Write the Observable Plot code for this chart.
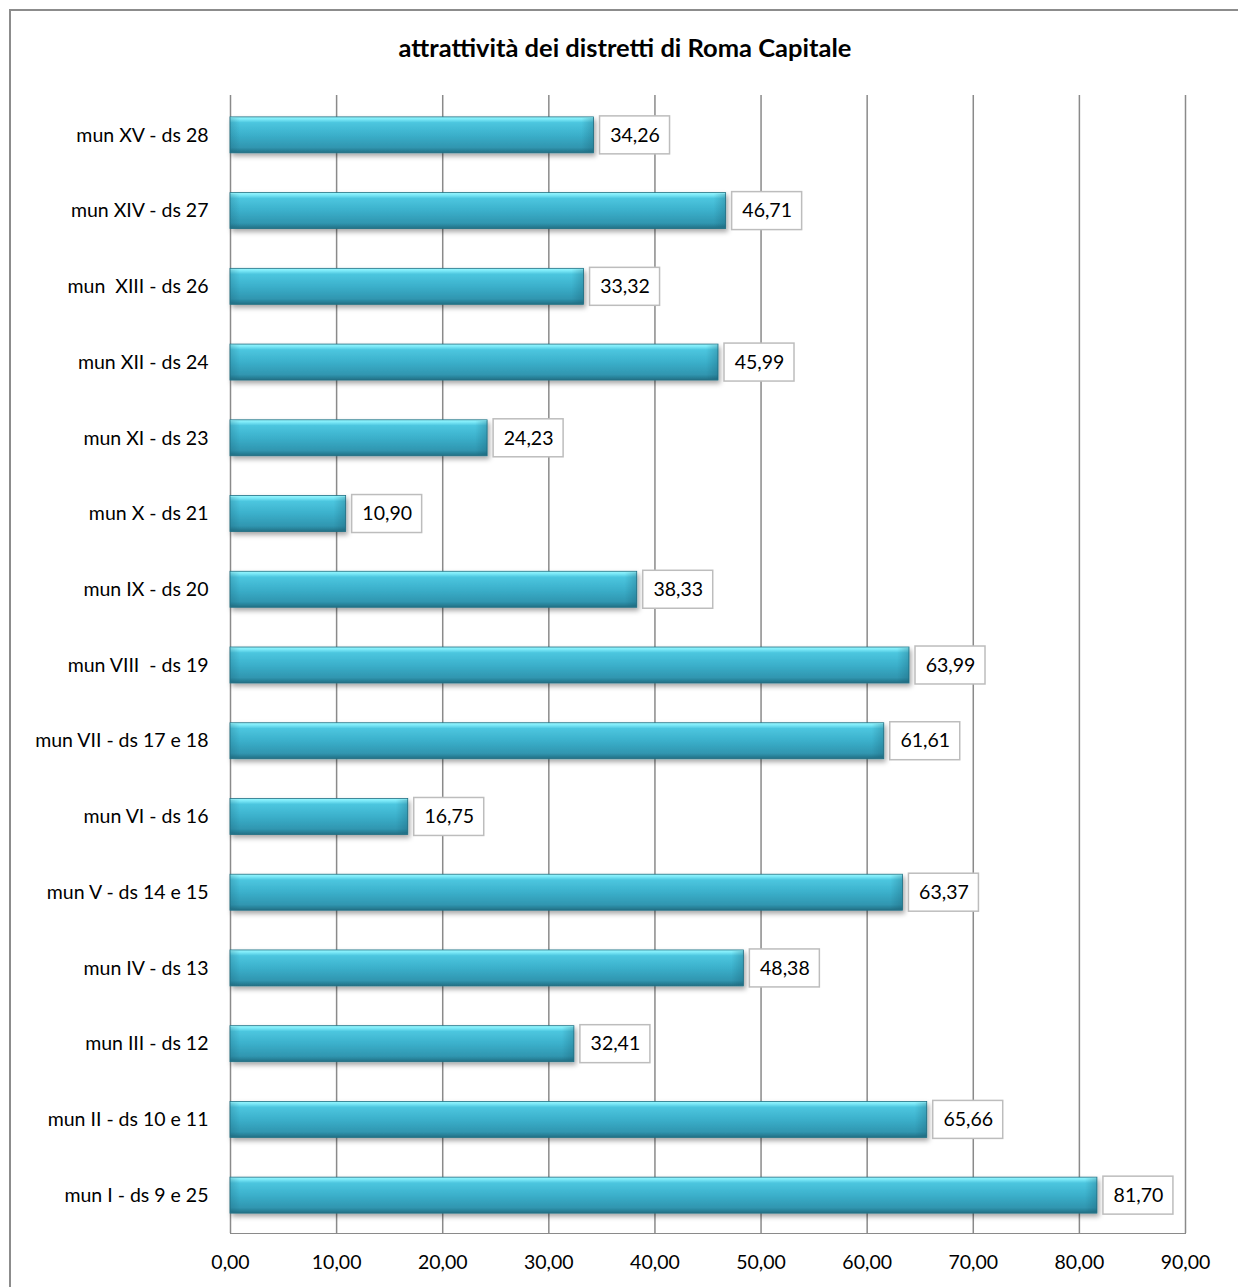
<!DOCTYPE html>
<html>
<head>
<meta charset="utf-8">
<script src="https://cdn.jsdelivr.net/npm/d3@7"></script>
<script src="https://cdn.jsdelivr.net/npm/@observablehq/plot@0.6"></script>
<style>
  html, body { margin: 0; padding: 0; background: #fff; overflow: hidden; }
  #wrap { position: relative; width: 1238px; height: 1287px; overflow: hidden; font-family: Lato, "Open Sans", sans-serif; }
  #frame { position: absolute; left: 9px; top: 9px; width: 1260px; height: 1300px; border: 2px solid #8c8c8c; box-sizing: border-box; pointer-events: none; }
  #title { height: 45px; padding-top: 34px; line-height: 26px; text-align: center; font-weight: bold; font-size: 25.5px; color: #000; padding-left: 12px; }
  #chart svg text { fill: #000; white-space: pre; }
</style>
</head>
<body>
<div id="wrap">
  <div id="frame"></div>
  <div id="title">attrattività dei distretti di Roma Capitale</div>
  <div id="chart"></div>
</div>
<script>
const categories = [
  "mun XV - ds 28",
  "mun XIV - ds 27",
  "mun  XIII - ds 26",
  "mun XII - ds 24",
  "mun XI - ds 23",
  "mun X - ds 21",
  "mun IX - ds 20",
  "mun VIII  - ds 19",
  "mun VII - ds 17 e 18",
  "mun VI - ds 16",
  "mun V - ds 14 e 15",
  "mun IV - ds 13",
  "mun III - ds 12",
  "mun II - ds 10 e 11",
  "mun I - ds 9 e 25"
];
const values = [34.26, 46.71, 33.32, 45.99, 24.23, 10.90, 38.33, 63.99, 61.61, 16.75, 63.37, 48.38, 32.41, 65.66, 81.70];
const xTicks = [0, 10, 20, 30, 40, 50, 60, 70, 80, 90];

const data = categories.map((c, i) => ({cat: c, value: values[i]}));
const fmt = v => d3.format(".2f")(v).replace(".", ",");

const plot = Plot.plot({
  width: 1238,
  height: 1207,
  marginTop: 18,
  marginBottom: 53,
  marginLeft: 230,
  marginRight: 53,
  style: {fontFamily: "Lato, 'Open Sans', sans-serif", fontSize: "19.5px", color: "#8a8a8a", background: "transparent"},
  x: {domain: [0, 90], ticks: xTicks, tickFormat: fmt, tickSize: 0, tickPadding: 22, label: null, line: true},
  y: {domain: categories, paddingInner: 0.525, paddingOuter: 0.2625, round: false, tickSize: 0, tickPadding: 22, label: null},
  marks: [
    Plot.gridX(xTicks, {stroke: "#8a8a8a", strokeOpacity: 1, strokeWidth: 1.5, insetTop: -2}),
    Plot.barX(data, {x: "value", y: "cat", fill: "url(#barGrad)", stroke: "#1f6f83", strokeWidth: 0.8}),
    Plot.barX(data, {x1: "value", x2: "value", y: "cat", insetLeft: -12, insetTop: 1, insetBottom: 1, fill: "url(#endGrad)"}),
    Plot.barX(data, {x1: 0, x2: 0, y: "cat", insetRight: -10, insetTop: 1, insetBottom: 1, fill: "url(#startGrad)"}),
    Plot.barX(data, {x1: "value", x2: "value", y: "cat", dx: 6, insetRight: -70, insetTop: -1, insetBottom: -1, fill: "white", stroke: "#bdbdbd", strokeWidth: 1.5}),
    Plot.text(data, {x: "value", y: "cat", text: d => fmt(d.value), dx: 41, fontSize: 19.5, fill: "#000"})
  ]
});

document.getElementById("chart").appendChild(plot);

const svg = d3.select(plot);
const defs = svg.insert("defs", ":first-child");
const g = defs.append("linearGradient").attr("id", "barGrad")
  .attr("x1", 0).attr("y1", 0).attr("x2", 0).attr("y2", 1);
[[0, "#9af8ff"], [0.07, "#7ae8f7"], [0.16, "#4cc6df"], [0.5, "#3bb0cb"], [0.85, "#3096b0"], [1, "#226f84"]]
  .forEach(([o, c]) => g.append("stop").attr("offset", o).attr("stop-color", c));
const ge = defs.append("linearGradient").attr("id", "endGrad")
  .attr("x1", 0).attr("y1", 0).attr("x2", 1).attr("y2", 0);
[[0, "rgba(20,80,100,0)"], [1, "rgba(20,80,100,0.28)"]]
  .forEach(([o, c]) => ge.append("stop").attr("offset", o).attr("stop-color", c));
const gs = defs.append("linearGradient").attr("id", "startGrad")
  .attr("x1", 0).attr("y1", 0).attr("x2", 1).attr("y2", 0);
[[0, "rgba(20,80,100,0.22)"], [1, "rgba(20,80,100,0)"]]
  .forEach(([o, c]) => gs.append("stop").attr("offset", o).attr("stop-color", c));
const f = defs.append("filter").attr("id", "shadow").attr("x", -0.05).attr("y", -0.3).attr("width", 1.1).attr("height", 1.8);
f.append("feDropShadow").attr("dx", 2).attr("dy", 3).attr("stdDeviation", 2.5).attr("flood-color", "#000").attr("flood-opacity", 0.35);
svg.selectAll("g[aria-label='bar']").filter((d, i) => i === 0).attr("filter", "url(#shadow)");
</script>
</body>
</html>
